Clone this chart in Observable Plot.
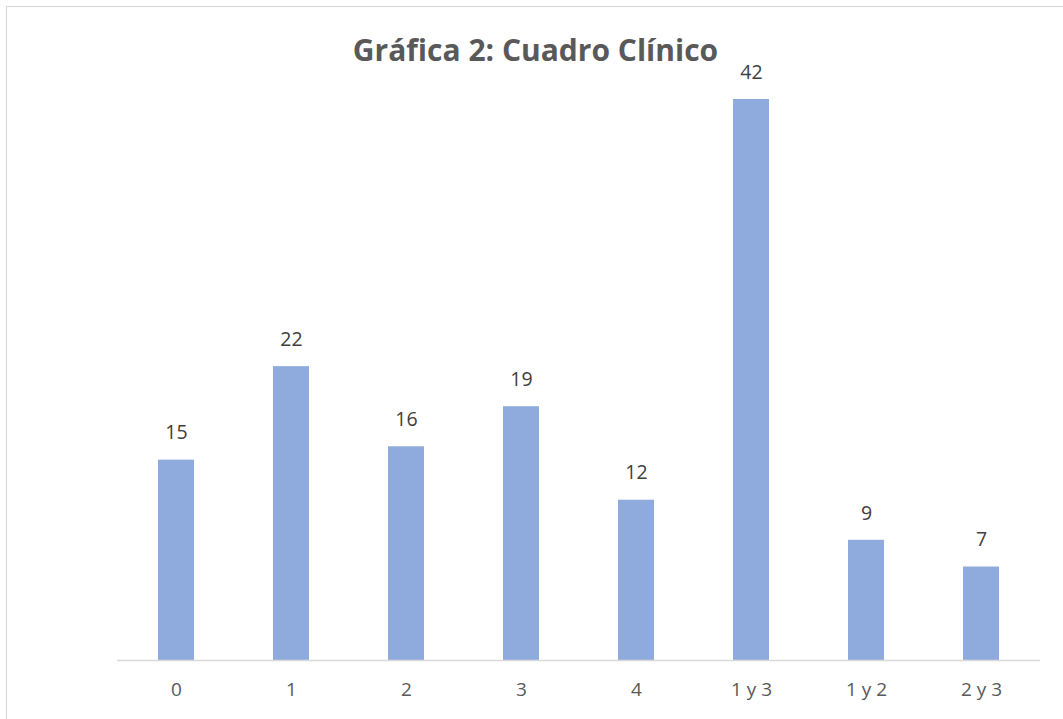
<!DOCTYPE html>
<html>
<head>
<meta charset="utf-8">
<script src="https://cdn.jsdelivr.net/npm/d3@7"></script>
<script src="https://cdn.jsdelivr.net/npm/@observablehq/plot@0.6"></script>
<style>
  html, body { margin: 0; padding: 0; background: #fff; }
  #wrap { position: relative; width: 1063px; height: 719px; overflow: hidden; font-family: "Open Sans", sans-serif; }
  #frame { position: absolute; left: 6px; top: 6px; width: 1100px; height: 800px; border: 1px solid #d6d6d6; box-sizing: border-box; }
  #title { position: absolute; left: 0; width: 1071px; top: 28px; text-align: center; font-size: 30px; font-weight: 700; color: #595959; line-height: 44px; }
  #chart { position: absolute; left: 0; top: 0; }
</style>
</head>
<body>
<div id="wrap">
  <div id="frame"></div>
  <div id="chart"></div>
  <div id="title">Gráfica 2: Cuadro Clínico</div>
</div>
<script>
const categories = ["0", "1", "2", "3", "4", "1 y 3", "1 y 2", "2 y 3"];
const values = [15, 22, 16, 19, 12, 42, 9, 7];

const data = categories.map((c, i) => ({category: c, value: values[i]}));

const chart = Plot.plot({
  width: 1063,
  height: 719,
  marginLeft: 117,
  marginRight: 23,
  marginTop: 99,
  marginBottom: 59,
  style: {fontFamily: "'Open Sans', sans-serif", background: "transparent"},
  x: {domain: categories, paddingInner: 0.688, paddingOuter: 0.344, label: null},
  y: {domain: [0, 42], nice: false, axis: null},
  marks: [
    Plot.barY(data, {x: "category", y: "value", fill: "#8faadc"}),
    Plot.ruleY([0], {stroke: "#d9d9d9", strokeWidth: 1.5}),
    Plot.text(data, {x: "category", y: "value", text: d => String(d.value), dy: -27, fontSize: 19.5, fill: "#404040"}),
    Plot.axisX({tickSize: 0, tickPadding: 22, fontSize: 19, color: "#595959", label: null})
  ]
});
document.getElementById("chart").appendChild(chart);
</script>
</body>
</html>
